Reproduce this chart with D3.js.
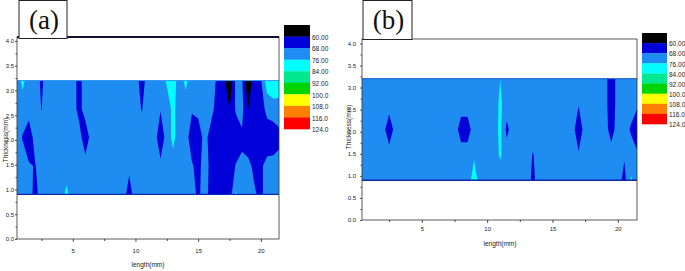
<!DOCTYPE html>
<html>
<head>
<meta charset="utf-8">
<script src="https://cdn.jsdelivr.net/npm/d3@7"></script>
<style>
  body { margin: 0; background: #fff; }
  svg { display: block; font-family: "Liberation Sans Narrow", "Liberation Sans", Arial, sans-serif; }
</style>
</head>
<body>
<div id="chart"></div>
<script>
// sample positions of the measured grid
const lengthMm = [0.5, 1, 1.5, 2, 2.5, 3, 3.5, 4, 4.5, 5, 5.5, 6, 6.5, 7, 7.5, 8, 8.5, 9, 9.5, 10, 10.5,
  11, 11.5, 12, 12.5, 13, 13.5, 14, 14.5, 15, 15.5, 16, 16.5, 17, 17.5, 18, 18.5, 19, 19.5, 20, 20.5, 21, 21.5];
const thicknessMm = [0.9, 1.475, 2.05, 2.625, 3.2];

// panel (a) values, one row per thickness (bottom to top)
const gridA = [
  [72, 72, 72, 65, 72, 72, 72, 72, 78, 72, 72, 72, 72, 72, 72, 72, 72, 72, 64, 72, 72, 72, 72, 72, 72, 72, 72, 72, 72, 66, 72, 65, 63, 63, 63, 77, 72, 72, 69, 66, 72, 72, 72],
  [72, 72, 69, 67.5, 72, 72, 72, 72, 72, 72, 72, 72, 72, 72, 72, 72, 72, 72, 70, 72, 72, 72, 72, 70, 72, 73, 72, 72, 69, 65, 72, 66, 64, 63, 63, 68.5, 69, 70, 66, 67, 70, 71, 71],
  [72, 67.5, 62, 72, 72, 72, 72, 72, 72, 72, 72, 62, 72, 72, 72, 72, 72, 72, 72, 72, 72, 72, 72, 62, 72, 78, 72, 72, 63, 64, 70, 66, 63, 62, 62, 63, 67, 63, 63, 62, 64, 63, 66],
  [72, 72, 72, 72, 67.8, 72, 72, 72, 72, 72, 65, 72, 72, 72, 72, 72, 72, 72, 72, 72, 67.5, 72, 72, 68.5, 72, 78, 72, 72, 69, 70, 72, 70, 66, 63, 60, 69, 70, 60, 64, 65, 70, 72, 72],
  [72, 78, 72, 72, 66.5, 72, 72, 72, 72, 72, 65, 72, 72, 72, 72, 72, 72, 72, 72, 72, 64, 72, 72, 72, 77, 80, 72, 78, 72, 72, 72, 72, 67, 64, 52, 70, 69, 52, 66, 67, 81, 83, 82]
];

// panel (b) values
const gridB = [
  [72, 72, 72, 72, 72, 72, 72, 72, 72, 72, 72, 72, 72, 72, 72, 72, 72, 80, 72, 72, 72, 72, 72, 72, 72, 72, 66, 72, 72, 72, 72, 72, 72, 72, 72, 72, 72, 72, 72, 72, 65, 77, 72],
  [72, 72, 72, 72, 72, 72, 72, 72, 72, 72, 72, 72, 72, 72, 72, 72, 72, 75, 72, 72, 72, 77, 72, 72, 72, 72, 67.5, 72, 72, 72, 72, 72, 72, 69, 72, 72, 72, 72, 72, 72, 69, 72, 69],
  [72, 72, 72, 72, 62, 72, 72, 72, 72, 72, 72, 72, 72, 72, 72, 64, 64, 72, 72, 72, 72, 78, 66, 72, 72, 72, 72, 72, 72, 72, 72, 72, 72, 62, 72, 72, 72, 72, 64, 72, 72, 67, 63],
  [72, 72, 72, 72, 72, 72, 72, 72, 72, 72, 72, 72, 72, 72, 72, 72, 72, 72, 72, 72, 72, 77.5, 72, 72, 72, 72, 72, 72, 72, 72, 72, 72, 72, 68.5, 72, 72, 72, 72, 62, 72, 72, 72, 69],
  [72, 72, 72, 72, 72, 72, 72, 72, 72, 72, 72, 72, 72, 72, 72, 72, 72, 72, 72, 72, 72, 76, 72, 72, 72, 72, 72, 72, 72, 72, 72, 72, 72, 72, 72, 72, 72, 72, 62, 72, 72, 72, 72]
];

const levels = [60, 68, 76, 84, 92, 100, 108, 116, 124];
const levelLabels = ['60.00', '68.00', '76.00', '84.00', '92.00', '100.0', '108.0', '116.0', '124.0'];
const bandColors = ['#000000', '#0000d8', '#1e8cf0', '#00ffff', '#00e890', '#00d400', '#ffff00', '#ff8000', '#ff0000'];

const yTicks = [0, 0.5, 1, 1.5, 2, 2.5, 3, 3.5, 4];
const yMinor = [0.25, 0.75, 1.25, 1.75, 2.25, 2.75, 3.25, 3.75];
const xTicks = [5, 10, 15, 20];
const xMinor = [2.5, 7.5, 12.5, 17.5];

const panels = [
  { tag: '(a)', grid: gridA, plot: { x0: 17, x1: 279, y0: 37, y1: 239 }, xDomain: [0.55, 21.45], yDomain: [0, 4.08],
    xPad: 7, yPad: 1, cbar: { x: 284, y: 25, w: 26, h: 104 }, box: { x: 19, w: 48, h: 38 },
    xTitle: [148, 267], yTitle: [6, 140], topLine: true },
  { tag: '(b)', grid: gridB, plot: { x0: 362, x1: 637, y0: 39, y1: 220 }, xDomain: [0.42, 21.47], yDomain: [0, 4.1],
    xPad: 4, yPad: 4, cbar: { x: 642, y: 33, w: 25, h: 91 }, box: { x: 363, w: 49, h: 39 },
    xTitle: [500, 246], yTitle: [349, 127], topLine: false }
];

const svg = d3.select('#chart').append('svg')
  .attr('width', 685)
  .attr('height', 271);

function styleAxis(g) {
  g.selectAll('path.domain').remove();
  g.selectAll('line').attr('stroke', '#222').attr('stroke-width', 0.8);
  g.selectAll('text').attr('fill', '#222').attr('font-size', '6px')
    .style('font-family', '"Liberation Sans Narrow", "Liberation Sans", Arial, sans-serif');
}

function drawPanel(p, idx) {
  const x = d3.scaleLinear().domain(p.xDomain).range([p.plot.x0, p.plot.x1]);
  const y = d3.scaleLinear().domain(p.yDomain).range([p.plot.y1, p.plot.y0]);
  const g = svg.append('g');

  const nx = lengthMm.length, ny = thicknessMm.length;
  const dx = lengthMm[1] - lengthMm[0];
  const dy = thicknessMm[1] - thicknessMm[0];
  const yBot = thicknessMm[0], yTop = thicknessMm[ny - 1];

  // clip to the measured band
  const clipId = 'band-clip-' + idx;
  g.append('clipPath').attr('id', clipId)
    .append('rect')
    .attr('x', p.plot.x0)
    .attr('y', y(yTop))
    .attr('width', p.plot.x1 - p.plot.x0)
    .attr('height', y(yBot) - y(yTop));

  const band = g.append('g').attr('clip-path', `url(#${clipId})`);
  band.append('rect')
    .attr('x', p.plot.x0)
    .attr('y', y(yTop))
    .attr('width', p.plot.x1 - p.plot.x0)
    .attr('height', y(yBot) - y(yTop))
    .attr('fill', bandColors[0]);

  const contours = d3.contours()
    .size([nx, ny])
    .thresholds(levels.slice(0, levels.length - 1))(p.grid.flat());

  const proj = d3.geoTransform({
    point(u, v) {
      this.stream.point(x(lengthMm[0] + (u - 0.5) * dx), y(yBot + (v - 0.5) * dy));
    }
  });
  const path = d3.geoPath(proj);

  band.selectAll('path')
    .data(contours)
    .join('path')
    .attr('d', path)
    .attr('fill', (d, i) => bandColors[i + 1]);

  // band edges
  g.append('line')
    .attr('x1', p.plot.x0).attr('x2', p.plot.x1)
    .attr('y1', y(yBot)).attr('y2', y(yBot))
    .attr('stroke', '#0c2aa8').attr('stroke-width', 1.3);
  g.append('line')
    .attr('x1', p.plot.x0).attr('x2', p.plot.x1)
    .attr('y1', y(yTop)).attr('y2', y(yTop))
    .attr('stroke', p.topLine ? '#3a9af2' : '#1660c8').attr('stroke-width', 1);

  // frame
  g.append('rect')
    .attr('x', p.plot.x0)
    .attr('y', p.plot.y0)
    .attr('width', p.plot.x1 - p.plot.x0)
    .attr('height', p.plot.y1 - p.plot.y0)
    .attr('fill', 'none')
    .attr('stroke', '#333')
    .attr('stroke-width', 0.8);
  if (p.topLine) {
    g.append('line')
      .attr('x1', p.plot.x0).attr('x2', p.plot.x1)
      .attr('y1', p.plot.y0).attr('y2', p.plot.y0)
      .attr('stroke', '#101030').attr('stroke-width', 2);
  }

  // axes
  const xAxis = g.append('g').attr('transform', `translate(0,${p.plot.y1})`)
    .call(d3.axisBottom(x).tickValues(xTicks).tickSize(3).tickPadding(p.xPad).tickFormat(d3.format('d')));
  styleAxis(xAxis);
  const xMinorAxis = g.append('g').attr('transform', `translate(0,${p.plot.y1})`)
    .call(d3.axisBottom(x).tickValues(xMinor).tickSize(2).tickFormat(''));
  styleAxis(xMinorAxis);

  const yAxis = g.append('g').attr('transform', `translate(${p.plot.x0},0)`)
    .call(d3.axisLeft(y).tickValues(yTicks).tickSize(2).tickPadding(p.yPad).tickFormat(d3.format('.1f')));
  styleAxis(yAxis);
  const yMinorAxis = g.append('g').attr('transform', `translate(${p.plot.x0},0)`)
    .call(d3.axisLeft(y).tickValues(yMinor).tickSize(1.5).tickFormat(''));
  styleAxis(yMinorAxis);

  g.append('text')
    .attr('x', p.xTitle[0])
    .attr('y', p.xTitle[1])
    .attr('text-anchor', 'middle')
    .attr('font-size', '6.5px')
    .attr('fill', '#222')
    .text('length(mm)');

  g.append('text')
    .attr('transform', `translate(${p.yTitle[0]},${p.yTitle[1]}) rotate(-90)`)
    .attr('text-anchor', 'middle')
    .attr('dy', '0.35em')
    .attr('font-size', '6.5px')
    .attr('fill', '#222')
    .text('Thickness(mm)');

  // color scale bar
  const cb = d3.scaleBand().domain(d3.range(levels.length)).range([p.cbar.y, p.cbar.y + p.cbar.h]);
  g.selectAll('rect.cbar')
    .data(bandColors)
    .join('rect')
    .attr('class', 'cbar')
    .attr('x', p.cbar.x)
    .attr('y', (d, i) => cb(i))
    .attr('width', p.cbar.w)
    .attr('height', cb.bandwidth() + 0.3)
    .attr('fill', d => d);

  g.selectAll('text.cbar')
    .data(levelLabels)
    .join('text')
    .attr('class', 'cbar')
    .attr('x', p.cbar.x + p.cbar.w + 2)
    .attr('y', (d, i) => cb(i) + cb.bandwidth() + 1)
    .attr('dy', '0.35em')
    .attr('font-size', '6.5px')
    .attr('fill', '#222')
    .text(d => d);

  // panel tag
  g.append('rect')
    .attr('x', p.box.x)
    .attr('y', 0.5)
    .attr('width', p.box.w)
    .attr('height', p.box.h)
    .attr('fill', '#fff')
    .attr('stroke', '#222')
    .attr('stroke-width', 1);
  g.append('text')
    .attr('x', p.box.x + p.box.w / 2 + 1)
    .attr('y', 29)
    .attr('text-anchor', 'middle')
    .style('font-family', '"Liberation Serif", "DejaVu Serif", serif')
    .attr('font-size', '27px')
    .attr('fill', '#111')
    .text(p.tag);
}

panels.forEach(drawPanel);
</script>
</body>
</html>
